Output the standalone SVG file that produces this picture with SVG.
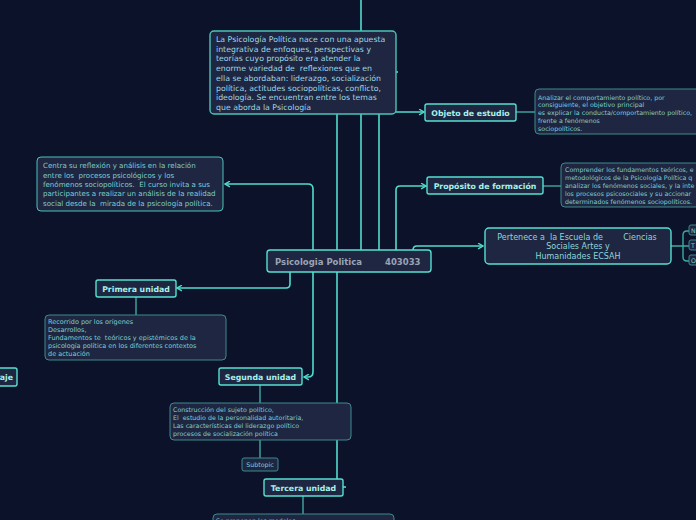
<svg xmlns="http://www.w3.org/2000/svg" width="696" height="520" viewBox="0 0 696 520">
<defs>
<style>
.bg{fill:#0b1229}
.conn{fill:none;stroke:#52dccc;stroke-width:1.6}
.sconn{fill:none;stroke:#3fa9a3;stroke-width:1.4}
.main{fill:#1e2641;stroke:#55e0d0;stroke-width:1.4}
.sub{fill:#1e2641;stroke:#3c8a8c;stroke-width:1}
.big{fill:#1e2641;stroke:#4cc4b8;stroke-width:1.4}
.mt{font-family:"DejaVu Sans",Verdana,sans-serif;font-weight:bold;font-size:7.8px;fill:#a6f2ea}
.ct{font-family:"DejaVu Sans",Verdana,sans-serif;font-weight:bold;font-size:8.5px;fill:#9aa3b6}
.st{font-family:"DejaVu Sans",Verdana,sans-serif;font-size:6.3px;fill:#7fcfd0}
.tt{font-family:"DejaVu Sans",Verdana,sans-serif;font-size:7.8px;fill:#9fd6e4}
.pt{font-family:"DejaVu Sans",Verdana,sans-serif;font-size:8px;fill:#8fd6da}
</style>
<marker id="ar" viewBox="0 0 10 10" refX="8" refY="5" markerWidth="7" markerHeight="7" orient="auto" markerUnits="userSpaceOnUse">
<path d="M1 1 L8 5 L1 9" fill="none" stroke="#52dccc" stroke-width="2"/>
</marker>
</defs>
<rect class="bg" x="0" y="0" width="696" height="520"/>

<g id="connectors">
<path class="conn" d="M361 0 V250"/>
<path class="conn" d="M337 100 V250"/>
<path class="conn" d="M379 100 V250"/>
<path class="conn" d="M380 72 H398"/>
<path class="conn" d="M388 60 V108 Q388 112 392 112 H424" marker-end="url(#ar)"/>
<path class="conn" d="M396 250 V190 Q396 186 400 186 H426" marker-end="url(#ar)"/>
<path class="conn" d="M313 250 V189 Q313 184 308 184 H225" marker-end="url(#ar)"/>
<path class="conn" d="M413 250 Q413 246 417 246 H483" marker-end="url(#ar)"/>
<path class="conn" d="M290 272 V284 Q290 288 286 288 H177" marker-end="url(#ar)"/>
<path class="conn" d="M313 272 V372 Q313 377 308 377 H304" marker-end="url(#ar)"/>
<path class="conn" d="M337 272 V479"/>
<path class="conn" d="M340 487 H346"/>
<path class="sconn" d="M516 112 H535"/>
<path class="sconn" d="M543 186 H561"/>
<path class="sconn" d="M671 246 H689 M683 246 V235 Q683 231 687 231 H689 M683 246 V257 Q683 261 687 261 H689"/>
<path class="sconn" d="M136 297 V315"/>
<path class="sconn" d="M260 385 V403 M260 440 V458"/>
<path class="sconn" d="M303 496 V514"/>
</g>

<g id="top-note">
<rect class="big" x="210" y="31" width="186" height="83" rx="4"/>
<text class="tt" x="216" y="42">La Psicología Política nace con una apuesta</text>
<text class="tt" x="216" y="51.7">integrativa de enfoques, perspectivas y</text>
<text class="tt" x="216" y="61.4">teorías cuyo propósito era atender la</text>
<text class="tt" x="216" y="71.1" xml:space="preserve">enorme variedad de  reflexiones que en</text>
<text class="tt" x="216" y="80.8">ella se abordaban: liderazgo, socialización</text>
<text class="tt" x="216" y="90.5">política, actitudes sociopolíticas, conflicto,</text>
<text class="tt" x="216" y="100.2">ideología. Se encuentran entre los temas</text>
<text class="tt" x="216" y="109.9">que aborda la Psicología</text>
</g>

<g id="center">
<rect class="main" x="267" y="250" width="164" height="22" rx="3"/>
<text class="ct" x="275" y="264.5">Psicologia Politica</text>
<text class="ct" x="385" y="264.5">403033</text>
</g>

<g id="objeto">
<rect class="main" x="425" y="104" width="91" height="17" rx="2"/>
<text class="mt" x="470.5" y="115.5" text-anchor="middle">Objeto de estudio</text>
</g>
<g id="objeto-sub">
<rect class="sub" x="535" y="89" width="170" height="45" rx="4"/>
<text class="st" x="538" y="99.5">Analizar el comportamiento político, por</text>
<text class="st" x="538" y="107.3">consiguiente, el objetivo principal</text>
<text class="st" x="538" y="115.1">es explicar la conducta/comportamiento político,</text>
<text class="st" x="538" y="122.9">frente a fenómenos</text>
<text class="st" x="538" y="130.7">sociopolíticos.</text>
</g>

<g id="proposito">
<rect class="main" x="427" y="177" width="116" height="17" rx="2"/>
<text class="mt" x="485" y="188.5" text-anchor="middle">Propósito de formación</text>
</g>
<g id="proposito-sub">
<rect class="sub" x="561" y="163" width="150" height="44" rx="4"/>
<text class="st" x="565" y="171.5">Comprender los fundamentos teóricos, e</text>
<text class="st" x="565" y="179.5">metodológicos de la Psicología Política q</text>
<text class="st" x="565" y="187.5">analizar los fenómenos sociales, y la inte</text>
<text class="st" x="565" y="195.5">los procesos psicosociales y su accionar</text>
<text class="st" x="565" y="203.5">determinados fenómenos sociopolíticos.</text>
</g>

<g id="pertenece">
<rect class="main" x="485" y="228" width="186" height="36" rx="4"/>
<text class="pt" x="577" y="239.5" text-anchor="middle" xml:space="preserve">Pertenece a  la Escuela de        Ciencias</text>
<text class="pt" x="578" y="249" text-anchor="middle">Sociales Artes y</text>
<text class="pt" x="578" y="258.5" text-anchor="middle">Humanidades ECSAH</text>
</g>
<g id="pertenece-n">
<rect class="sub" x="689" y="225" width="20" height="10" rx="2"/>
<text class="st" x="691" y="232.5">N</text>
</g>
<g id="pertenece-t">
<rect class="sub" x="689" y="240" width="20" height="10" rx="2"/>
<text class="st" x="691" y="247.5">T</text>
</g>
<g id="pertenece-o">
<rect class="sub" x="689" y="255" width="20" height="10" rx="2"/>
<text class="st" x="691" y="262.5">O</text>
</g>

<g id="centra">
<rect class="sub" x="37" y="157" width="186" height="54" rx="4" style="stroke:#4cc4b8"/>
<text class="st" x="43" y="168" style="font-size:7.1px">Centra su reflexión y análisis en la relación</text>
<text class="st" x="43" y="177.6" style="font-size:7.1px" xml:space="preserve">entre los  procesos psicológicos y los</text>
<text class="st" x="43" y="186.8" style="font-size:7.1px" xml:space="preserve">fenómenos sociopolíticos.  El curso invita a sus</text>
<text class="st" x="43" y="196.3" style="font-size:7.1px">participantes a realizar un análisis de la realidad</text>
<text class="st" x="43" y="206" style="font-size:7.1px" xml:space="preserve">social desde la  mirada de la psicología política.</text>
</g>

<g id="primera">
<rect class="main" x="96" y="280" width="80" height="17" rx="2"/>
<text class="mt" x="136" y="291.5" text-anchor="middle">Primera unidad</text>
</g>
<g id="primera-sub">
<rect class="sub" x="45" y="315" width="181" height="45" rx="4"/>
<text class="st" x="48" y="323.6" style="font-size:6.5px">Recorrido por los orígenes</text>
<text class="st" x="48" y="331.6" style="font-size:6.5px">Desarrollos,</text>
<text class="st" x="48" y="339.6" style="font-size:6.5px" xml:space="preserve">Fundamentos te  teóricos y epistémicos de la</text>
<text class="st" x="48" y="348" style="font-size:6.5px">psicología política en los diferentes contextos</text>
<text class="st" x="48" y="356" style="font-size:6.5px">de actuación</text>
</g>

<g id="segunda">
<rect class="main" x="219" y="368" width="83" height="17" rx="2"/>
<text class="mt" x="260.5" y="379.5" text-anchor="middle">Segunda unidad</text>
</g>
<g id="segunda-sub">
<rect class="sub" x="170" y="403" width="181" height="37" rx="4"/>
<text class="st" x="173" y="412.3">Construcción del sujeto político,</text>
<text class="st" x="173" y="420.3" xml:space="preserve">El  estudio de la personalidad autoritaria,</text>
<text class="st" x="173" y="428.3">Las características del liderazgo político</text>
<text class="st" x="173" y="436">procesos de socialización política</text>
</g>
<g id="subtopic">
<rect class="sub" x="242" y="458" width="36" height="13" rx="2"/>
<text class="st" x="260" y="466.8" text-anchor="middle">Subtopic</text>
</g>

<g id="tercera">
<rect class="main" x="264" y="479" width="79" height="17" rx="2"/>
<text class="mt" x="303.5" y="490.5" text-anchor="middle">Tercera unidad</text>
</g>
<g id="tercera-sub">
<rect class="sub" x="213" y="514" width="181" height="40" rx="4"/>
<text class="st" x="216" y="523">Se proponen los modelos</text>
</g>

<g id="left-node">
<rect class="main" x="-40" y="368" width="57" height="18" rx="2"/>
<text class="mt" x="13" y="380" text-anchor="end">aje</text>
</g>
</svg>
